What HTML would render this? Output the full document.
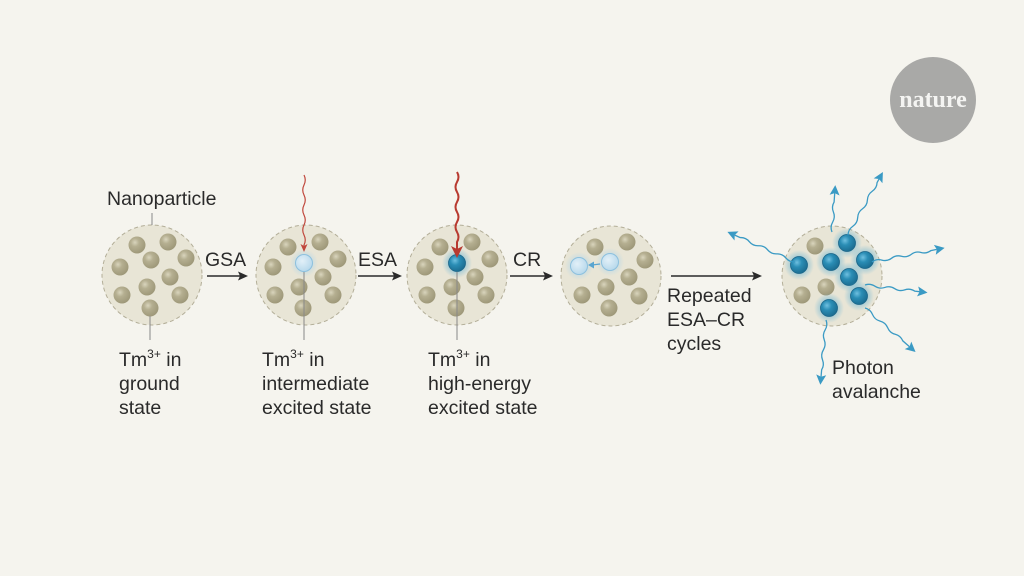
<!DOCTYPE html>
<html><head><meta charset="utf-8"><style>
html,body{margin:0;padding:0;background:#f5f4ee;}
svg{display:block;}
text{font-family:"Liberation Sans",sans-serif;fill:#2a2a2a;font-size:19.5px;}
</style></head><body>
<svg width="1024" height="576" viewBox="0 0 1024 576" xmlns="http://www.w3.org/2000/svg">
<defs>
<radialGradient id="tan" cx="0.38" cy="0.35" r="0.7">
<stop offset="0" stop-color="#d9d5bd"/><stop offset="0.35" stop-color="#b5af91"/><stop offset="1" stop-color="#9c9677"/></radialGradient>
<radialGradient id="blue" cx="0.38" cy="0.35" r="0.7">
<stop offset="0" stop-color="#6fc0e0"/><stop offset="0.4" stop-color="#2a8db5"/><stop offset="1" stop-color="#1a6a8e"/></radialGradient>
<radialGradient id="lb" cx="0.4" cy="0.38" r="0.7">
<stop offset="0" stop-color="#e2f0f8"/><stop offset="1" stop-color="#b3d6ea"/></radialGradient>
<radialGradient id="glow"><stop offset="0.4" stop-color="#5aaed3" stop-opacity="0.6"/><stop offset="1" stop-color="#5aaed3" stop-opacity="0"/></radialGradient>
<radialGradient id="glowl"><stop offset="0.4" stop-color="#a9d3ec" stop-opacity="0.6"/><stop offset="1" stop-color="#a9d3ec" stop-opacity="0"/></radialGradient>
<g id="t"><circle r="8.5" fill="url(#tan)"/></g>
<g id="b"><circle r="15" fill="url(#glow)"/><circle r="8.5" fill="url(#blue)" stroke="#1b6588" stroke-width="0.8"/></g>
<g id="l"><circle r="14" fill="url(#glowl)"/><circle r="8.5" fill="url(#lb)" stroke="#8cc0de" stroke-width="1"/></g>
<g id="np"><circle r="50" fill="#e8e5d6" stroke="#b3ae98" stroke-width="1" stroke-dasharray="4 3"/></g>
</defs>

<circle cx="933" cy="100" r="43" fill="#a9a9a7"/>
<text x="933" y="107" text-anchor="middle" style="font-family:'Liberation Serif',serif;font-size:24px;font-weight:bold;fill:#f4f4f2;">nature</text>

<use href="#np" x="152" y="275"/>
<use href="#t" x="137" y="245"/><use href="#t" x="168" y="242"/><use href="#t" x="120" y="267"/>
<use href="#t" x="151" y="260"/><use href="#t" x="186" y="258"/><use href="#t" x="170" y="277"/>
<use href="#t" x="147" y="287"/><use href="#t" x="122" y="295"/><use href="#t" x="180" y="295"/>
<use href="#t" x="150" y="308"/>
<line x1="152" y1="213" x2="152" y2="225" stroke="#888" stroke-width="1"/>
<line x1="150" y1="316" x2="150" y2="340" stroke="#888" stroke-width="1"/>
<text x="107" y="205">Nanoparticle</text>
<text x="119" y="366">Tm<tspan dy="-8" font-size="12">3+</tspan><tspan dy="8"> in</tspan></text>
<text x="119" y="390">ground</text>
<text x="119" y="414">state</text>

<use href="#np" x="306" y="275"/>
<use href="#t" x="288" y="247"/><use href="#t" x="320" y="242"/><use href="#t" x="273" y="267"/>
<use href="#l" x="304" y="263"/><use href="#t" x="338" y="259"/><use href="#t" x="323" y="277"/>
<use href="#t" x="299" y="287"/><use href="#t" x="275" y="295"/><use href="#t" x="333" y="295"/>
<use href="#t" x="303" y="308"/>
<line x1="304" y1="272" x2="304" y2="340" stroke="#888" stroke-width="1"/>
<text x="262" y="366">Tm<tspan dy="-8" font-size="12">3+</tspan><tspan dy="8"> in</tspan></text>
<text x="262" y="390">intermediate</text>
<text x="262" y="414">excited state</text>

<use href="#np" x="457" y="275"/>
<use href="#t" x="440" y="247"/><use href="#t" x="472" y="242"/><use href="#t" x="425" y="267"/>
<use href="#b" x="457" y="263"/><use href="#t" x="490" y="259"/><use href="#t" x="475" y="277"/>
<use href="#t" x="452" y="287"/><use href="#t" x="427" y="295"/><use href="#t" x="486" y="295"/>
<use href="#t" x="456" y="308"/>
<line x1="457" y1="272" x2="457" y2="340" stroke="#888" stroke-width="1"/>
<text x="428" y="366">Tm<tspan dy="-8" font-size="12">3+</tspan><tspan dy="8"> in</tspan></text>
<text x="428" y="390">high-energy</text>
<text x="428" y="414">excited state</text>

<use href="#np" x="611" y="276"/>
<use href="#t" x="595" y="247"/><use href="#t" x="627" y="242"/><use href="#l" x="579" y="266"/>
<use href="#l" x="610" y="262"/><use href="#t" x="645" y="260"/><use href="#t" x="629" y="277"/>
<use href="#t" x="606" y="287"/><use href="#t" x="582" y="295"/><use href="#t" x="639" y="296"/>
<use href="#t" x="609" y="308"/>
<line x1="600" y1="264" x2="592" y2="265" stroke="#5aa5d0" stroke-width="1.3"/>
<polygon points="588,265 594,261.5 594,268.5" fill="#5aa5d0"/>

<use href="#np" x="832" y="276"/>
<use href="#t" x="815" y="246"/><use href="#b" x="847" y="243"/><use href="#b" x="799" y="265"/>
<use href="#b" x="831" y="262"/><use href="#b" x="865" y="260"/><use href="#b" x="849" y="277"/>
<use href="#t" x="826" y="287"/><use href="#t" x="802" y="295"/><use href="#b" x="859" y="296"/>
<use href="#b" x="829" y="308"/>
<text x="832" y="374">Photon</text>
<text x="832" y="398">avalanche</text>

<g stroke="#2a2a2a" stroke-width="1.5" fill="#2a2a2a">
<line x1="207" y1="276" x2="240" y2="276"/><polygon points="248,276 238,271.5 240,276 238,280.5" stroke="none"/>
<line x1="358" y1="276" x2="394" y2="276"/><polygon points="402,276 392,271.5 394,276 392,280.5" stroke="none"/>
<line x1="510" y1="276" x2="545" y2="276"/><polygon points="553,276 543,271.5 545,276 543,280.5" stroke="none"/>
<line x1="671" y1="276" x2="754" y2="276"/><polygon points="762,276 752,271.5 754,276 752,280.5" stroke="none"/>
</g>
<text x="205" y="266">GSA</text>
<text x="358" y="266">ESA</text>
<text x="513" y="266">CR</text>
<text x="667" y="302">Repeated</text>
<text x="667" y="326">ESA–CR</text>
<text x="667" y="350">cycles</text>

<g transform="translate(304,175) rotate(90)" fill="none" stroke="#c0473c" stroke-width="1.2">
<path d="M0 0 q5 -2.5 10 0 t10 0 t10 0 t10 0 t10 0 t10 0 t10 0 L71 0"/>
<polygon points="77,0 69,-3.5 71,0 69,3.5" fill="#c0473c" stroke="none"/>
</g>
<g transform="translate(457,172) rotate(90)" fill="none" stroke="#b83a30" stroke-width="2">
<path d="M0 0 q5 -3 10 0 t10 0 t10 0 t10 0 t10 0 t10 0 t10 0 L78 0"/>
<polygon points="86,0 74,-6 77,0 74,6" fill="#b83a30" stroke="none"/>
</g>

<g fill="none" stroke="#3a9ac4" stroke-width="1.3">
<g transform="translate(832,232) rotate(-86)"><path d="M0 0 q5 -2.5 10 0 t10 0 t10 0 L39 0"/><polygon points="47,0 37,-5 39,0 37,5" fill="#3a9ac4" stroke="none"/></g>
<g transform="translate(848,235) rotate(-61)"><path d="M0 0 q5 -2.5 10 0 t10 0 t10 0 t10 0 t10 0 t10 0 L64 0"/><polygon points="72,0 62,-5 64,0 62,5" fill="#3a9ac4" stroke="none"/></g>
<g transform="translate(795,262) rotate(204)"><path d="M0 0 q5 -2.5 10 0 t10 0 t10 0 t10 0 t10 0 t10 0 L66 0"/><polygon points="74,0 64,-5 66,0 64,5" fill="#3a9ac4" stroke="none"/></g>
<g transform="translate(872,262) rotate(-11)"><path d="M0 0 q5 -2.5 10 0 t10 0 t10 0 t10 0 t10 0 t10 0 L66 0"/><polygon points="74,0 64,-5 66,0 64,5" fill="#3a9ac4" stroke="none"/></g>
<g transform="translate(865,285) rotate(7)"><path d="M0 0 q5 -2.5 10 0 t10 0 t10 0 t10 0 t10 0 L55 0"/><polygon points="63,0 53,-5 55,0 53,5" fill="#3a9ac4" stroke="none"/></g>
<g transform="translate(865,308) rotate(41)"><path d="M0 0 q5 -2.5 10 0 t10 0 t10 0 t10 0 t10 0 L59 0"/><polygon points="67,0 57,-5 59,0 57,5" fill="#3a9ac4" stroke="none"/></g>
<g transform="translate(826,320) rotate(95)"><path d="M0 0 q5 -2.5 10 0 t10 0 t10 0 t10 0 t10 0 L57 0"/><polygon points="65,0 55,-5 57,0 55,5" fill="#3a9ac4" stroke="none"/></g>
</g>
</svg>
</body></html>
